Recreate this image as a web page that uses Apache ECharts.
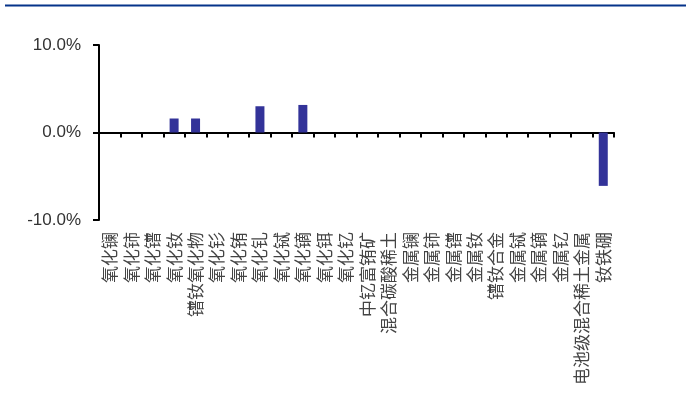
<!DOCTYPE html>
<html>
<head>
<meta charset="utf-8">
<script src="https://cdn.jsdelivr.net/npm/echarts@6/dist/echarts.min.js"></script>
<style>
html,body{margin:0;padding:0;background:#fff;}
#chart{width:686px;height:401px;}
</style>
</head>
<body>
<div id="chart"></div>
<script>
var categories = ['氧化镧','氧化铈','氧化镨','氧化钕','镨钕氧化物','氧化钐','氧化铕','氧化钆','氧化铽','氧化镝','氧化铒','氧化钇','中钇富铕矿','混合碳酸稀土','金属镧','金属铈','金属镨','金属钕','镨钕合金','金属铽','金属镝','金属钇','电池级混合稀土金属','钕铁硼'];
var changePct = [0,0,0,1.6,1.6,0,0,3.0,0,3.15,0,0,0,0,0,0,0,0,0,0,0,0,0,-6.1];
var yTicks = [-10, 0, 10];

var chart = echarts.init(document.getElementById('chart'), null, {renderer:'canvas'});
chart.setOption({
  animation:false,
  backgroundColor:'#fff',
  grid:{left:99, right:72, top:45, bottom:181, containLabel:false},
  graphic:[{type:'line', shape:{x1:5,y1:5.5,x2:686,y2:5.5}, style:{stroke:'#05338a', lineWidth:2.2}}],
  xAxis:[{
    type:'category', data:categories, position:'bottom',
    axisLine:{onZero:true, lineStyle:{color:'#000', width:2}},
    axisTick:{show:true, interval:0, length:5, lineStyle:{color:'#000', width:2}},
    axisLabel:{show:false}, splitLine:{show:false}
  },{
    type:'category', data:categories, position:'bottom', offset:0,
    axisLine:{show:false, onZero:false}, axisTick:{show:false},
    axisLabel:{show:true, rotate:90, interval:0, margin:12, fontSize:17, color:'#444',
      fontFamily:'"Noto Sans CJK SC", sans-serif'},
    splitLine:{show:false}
  }],
  yAxis:{
    type:'value', min:yTicks[0], max:yTicks[yTicks.length-1], interval:10,
    axisLine:{show:true, lineStyle:{color:'#000', width:2}},
    axisTick:{show:true, length:6, lineStyle:{color:'#000', width:2}},
    splitLine:{show:false},
    axisLabel:{margin:18, fontSize:17, color:'#333',
      fontFamily:'"Liberation Sans Narrow", "Arial Narrow", "Liberation Sans", sans-serif',
      formatter:function(v){return v.toFixed(1)+'%';}}
  },
  series:[{
    type:'bar', xAxisIndex:0, data:changePct, barWidth:9,
    itemStyle:{color:'#333399'}
  }]
});
</script>
</body>
</html>
